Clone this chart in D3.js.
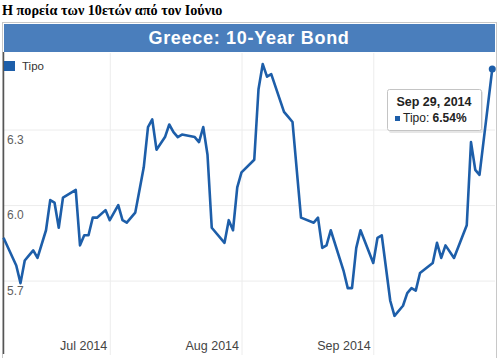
<!DOCTYPE html>
<html><head><meta charset="utf-8">
<script src="https://cdn.jsdelivr.net/npm/d3@7"></script>
<style>
body{margin:0;background:#fff;}
svg{display:block;}
</style></head><body>
<svg id="c" width="499" height="358"></svg>
<script>
const pageTitle = "Η πορεία των 10ετών από τον Ιούνιο";
const chartTitle = "Greece: 10-Year Bond";
const seriesName = "Tipo";
const dates = [
 "2014-06-06","2014-06-09","2014-06-10","2014-06-11","2014-06-12","2014-06-13","2014-06-14",
 "2014-06-16","2014-06-17","2014-06-18","2014-06-19","2014-06-20","2014-06-23","2014-06-24",
 "2014-06-25","2014-06-26","2014-06-27","2014-06-28","2014-06-30","2014-07-01","2014-07-02",
 "2014-07-03","2014-07-04","2014-07-05","2014-07-07","2014-07-08","2014-07-09","2014-07-10",
 "2014-07-11","2014-07-12","2014-07-14","2014-07-15","2014-07-16","2014-07-17","2014-07-18",
 "2014-07-21","2014-07-22","2014-07-23","2014-07-24","2014-07-25","2014-07-28","2014-07-29",
 "2014-07-30","2014-07-31","2014-08-01","2014-08-04","2014-08-05","2014-08-06","2014-08-07",
 "2014-08-08","2014-08-11","2014-08-12","2014-08-13","2014-08-14","2014-08-15","2014-08-18",
 "2014-08-19","2014-08-20","2014-08-21","2014-08-22","2014-08-25","2014-08-26","2014-08-27",
 "2014-08-28","2014-08-29","2014-09-01","2014-09-02","2014-09-03","2014-09-05","2014-09-06",
 "2014-09-08","2014-09-09","2014-09-10","2014-09-11","2014-09-12","2014-09-15","2014-09-16",
 "2014-09-17","2014-09-18","2014-09-20","2014-09-23","2014-09-24","2014-09-25","2014-09-26",
 "2014-09-29"
];
const values = [
 5.87,5.76,5.69,5.78,5.80,5.82,5.79,
 5.90,6.02,6.01,5.91,6.03,6.06,5.84,
 5.88,5.88,5.95,5.95,5.98,5.94,5.97,
 6.00,5.94,5.93,5.97,6.06,6.15,6.31,
 6.34,6.22,6.27,6.32,6.29,6.27,6.28,
 6.27,6.25,6.31,6.20,5.91,5.85,5.94,
 5.90,6.07,6.13,6.18,6.46,6.56,6.51,
 6.52,6.37,6.35,6.33,6.14,5.95,5.93,
 5.95,5.83,5.84,5.90,5.74,5.67,5.67,
 5.83,5.90,5.77,5.87,5.88,5.62,5.56,
 5.60,5.65,5.67,5.66,5.73,5.77,5.85,
 5.79,5.84,5.79,5.92,6.25,6.14,6.12,
 6.54
];
const xTickDates = ["2014-07-01","2014-08-01","2014-09-01"];
const xTickLabels = ["Jul 2014","Aug 2014","Sep 2014"];
const yTicks = [5.7, 6.0, 6.3];
const yTickLabels = ["5.7","6.0","6.3"];
const tooltipDate = "Sep 29, 2014";

const parse = d3.utcParse("%Y-%m-%d");
const data = dates.map((d,i)=>({date:parse(d), value:values[i]}));

const svg = d3.select("#c");
const lineColor = "#1d5ea9";

// page title
svg.append("text").attr("x",2).attr("y",15)
  .attr("font-family","'Liberation Serif','Times New Roman',serif")
  .attr("font-weight","bold").attr("font-size",14.2).attr("fill","#000")
  .text(pageTitle);

// chart frame
svg.append("rect").attr("x",2.5).attr("y",22.5).attr("width",494).attr("height",345)
  .attr("fill","#fff").attr("stroke","#c8c8c8");
svg.append("rect").attr("x",4).attr("y",24).attr("width",491).attr("height",28)
  .attr("fill","#4a7ebc");
svg.append("text").attr("x",249).attr("y",44).attr("text-anchor","middle")
  .attr("font-family","'Liberation Sans',Arial,sans-serif").attr("font-weight","bold")
  .attr("font-size",18).attr("letter-spacing",0.7).attr("fill","#fff").text(chartTitle);

const x = d3.scaleUtc().domain([parse("2014-06-06"), parse("2014-09-30")]).range([3.5, 496.5]);
const y = d3.scaleLinear().domain([5.48, 6.60]).range([336, 54]);

// vertical gridlines via axis
const gx = svg.append("g").attr("transform","translate(0,53)")
  .call(d3.axisBottom(x).tickValues(xTickDates.map(parse)).tickSize(302).tickFormat(""));
gx.select(".domain").remove();
gx.selectAll(".tick line").attr("stroke","#ececec");

// horizontal gridlines via axis
const gy = svg.append("g").attr("transform","translate(4,0)")
  .call(d3.axisRight(y).tickValues(yTicks).tickSize(491).tickFormat(""));
gy.select(".domain").remove();
gy.selectAll(".tick line").attr("stroke","#ececec");

// y labels
const yl = svg.append("g").attr("transform","translate(7,0)")
  .call(d3.axisRight(y).tickValues(yTicks).tickSize(0).tickPadding(0)
    .tickFormat((d,i)=>yTickLabels[i]));
yl.select(".domain").remove();
yl.selectAll("text").attr("dy",13.5).attr("font-family","'Liberation Sans',Arial,sans-serif")
  .attr("font-size",12).attr("fill","#606060");

// x labels
const xl = svg.append("g").attr("transform","translate(0,350)")
  .call(d3.axisBottom(x).tickValues(xTickDates.map(parse)).tickSize(0).tickPadding(0)
    .tickFormat((d,i)=>xTickLabels[i]));
xl.select(".domain").remove();
xl.selectAll("text").attr("text-anchor","end").attr("dx",-3).attr("dy",0)
  .attr("font-family","'Liberation Sans',Arial,sans-serif")
  .attr("font-size",12.5).attr("fill","#444");

// left axis line
svg.append("line").attr("x1",3.5).attr("x2",3.5).attr("y1",52).attr("y2",354)
  .attr("stroke","#555").attr("stroke-width",1.5);

// series line
svg.append("path").datum(data)
  .attr("d", d3.line().x(d=>x(d.date)).y(d=>y(d.value)))
  .attr("fill","none").attr("stroke",lineColor).attr("stroke-width",2.6)
  .attr("stroke-linejoin","round");

// end marker
const last = data[data.length-1];
svg.append("circle").attr("cx",x(last.date)).attr("cy",y(last.value)).attr("r",3.5)
  .attr("fill",lineColor);

// legend
svg.append("rect").attr("x",4).attr("y",61).attr("width",11).attr("height",10).attr("fill",lineColor);
svg.append("text").attr("x",22).attr("y",70)
  .attr("font-family","'Liberation Sans',Arial,sans-serif").attr("font-size",11.5)
  .attr("fill","#333").text(seriesName);

// tooltip
const tt = svg.append("g");
tt.append("rect").attr("x",389).attr("y",91).attr("width",94).attr("height",42).attr("rx",2)
  .attr("fill","#e6e6e6");
tt.append("rect").attr("x",387.5).attr("y",89.5).attr("width",94).attr("height",41).attr("rx",2)
  .attr("fill","#fff").attr("stroke","#c4c4c4");
tt.append("text").attr("x",434).attr("y",106).attr("text-anchor","middle")
  .attr("font-family","'Liberation Sans',Arial,sans-serif").attr("font-weight","bold")
  .attr("font-size",12.5).attr("fill","#222").text(tooltipDate);
tt.append("rect").attr("x",395).attr("y",116).attr("width",5).attr("height",5).attr("fill",lineColor);
const t2 = tt.append("text").attr("x",403).attr("y",122)
  .attr("font-family","'Liberation Sans',Arial,sans-serif").attr("font-size",12).attr("fill","#222");
t2.append("tspan").text(seriesName + ": ");
t2.append("tspan").attr("font-weight","bold").text(d3.format(".2f")(last.value) + "%");
</script>
</body></html>
